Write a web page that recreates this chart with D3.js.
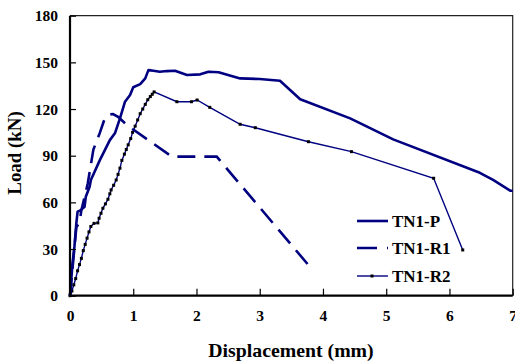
<!DOCTYPE html>
<html>
<head>
<meta charset="utf-8">
<script src="https://cdn.jsdelivr.net/npm/d3@7"></script>
<style>
  body { margin: 0; background: #fff; }
  text { font-family: "Liberation Serif", "Times New Roman", serif; font-weight: bold; fill: #000; }
</style>
</head>
<body>
<svg id="chart" width="515" height="361"></svg>
<script>
// TN1-P (displacement mm, load kN)
const tn1P = [[0,0],[0.04,21],[0.07,31.5],[0.10,46.5],[0.12,54],[0.17,55],[0.23,57.2],[0.25,63.6],
  [0.31,70],[0.33,74.4],[0.47,87],[0.63,100],[0.71,104.4],[0.79,114],[0.87,124.7],[0.95,129],
  [1.00,134],[1.11,136],[1.19,139.7],[1.24,145],[1.32,144.6],[1.42,144],[1.53,144.4],[1.66,144.6],
  [1.85,141.9],[2.06,142.3],[2.19,144],[2.35,143.6],[2.69,139.7],[3.00,139.3],[3.32,138.2],
  [3.64,126.3],[4.43,114],[5.11,100.5],[6.48,79],[6.69,74.4],[6.96,67.5],[7.0,67.5]];

const tn1R1 = [[0,0],[0.05,22],[0.10,44],[0.15,47],[0.18,55],[0.28,72],[0.37,94],[0.47,104.5],
  [0.55,114],[0.62,116.5],[0.68,116.8],[0.76,115],[0.90,109.7],[1.61,89.4],[2.32,89.4],[3.77,19.7]];

const tn1R2 = [[0,0],[0.03,3],[0.06,7],[0.09,11],[0.12,16],[0.15,20],[0.18,24],[0.21,29],[0.24,33],
  [0.27,37],[0.30,41],[0.33,44.5],[0.38,46.5],[0.44,46.8],[0.46,49.8],[0.49,53],[0.52,56.2],
  [0.56,59],[0.60,62],[0.63,65.5],[0.65,68],[0.69,71],[0.73,74.4],[0.76,78],[0.79,82],[0.82,87],
  [0.86,91],[0.89,94],[0.92,97],[0.96,101],[0.99,105],[1.03,109],[1.07,113],[1.11,117],[1.15,120],
  [1.19,123],[1.23,126],[1.27,128],[1.30,129.5],[1.33,131],[1.69,124.7],[1.92,124.7],[2.01,125.8],
  [2.21,121.1],[2.69,110.2],[2.93,108],[3.77,99],[4.45,92.6],[5.75,75.5],[6.21,29.4]];

const xTicks = [0, 1, 2, 3, 4, 5, 6, 7];
const yTicks = [0, 30, 60, 90, 120, 150, 180];
const legendNames = ["TN1-P", "TN1-R1", "TN1-R2"];

const navy = "#000080";
let svg = d3.select("#chart");

let x = d3.scaleLinear().domain([0, 7]).range([70, 512.7]);
let y = d3.scaleLinear().domain([0, 180]).range([295.7, 15.7]);

let g = svg.append("g");

// frame top/right
g.append("path")
  .attr("d", `M${x(0)},${y(180)}H${x(7)}V${y(0)}`)
  .attr("fill", "none").attr("stroke", "#222").attr("stroke-width", 1.2);

let line = d3.line().x(d => x(d[0])).y(d => y(d[1]));

g.append("path").datum(tn1R2).attr("d", line)
  .attr("fill", "none").attr("stroke", navy).attr("stroke-width", 1.4);
g.selectAll("rect.mk").data(tn1R2).enter().append("rect")
  .attr("class", "mk")
  .attr("x", d => x(d[0]) - 1.5).attr("y", d => y(d[1]) - 1.5)
  .attr("width", 3).attr("height", 3).attr("fill", "#000");

g.append("path").datum(tn1R1).attr("d", line)
  .attr("fill", "none").attr("stroke", navy).attr("stroke-width", 2.6)
  .attr("stroke-dasharray", "18,9");

g.append("path").datum(tn1P).attr("d", line)
  .attr("fill", "none").attr("stroke", navy).attr("stroke-width", 2.6)
  .attr("stroke-linejoin", "round");

// axes
let xAxis = g.append("g").attr("transform", `translate(0,${y(0)})`)
  .call(d3.axisBottom(x).tickValues(xTicks).tickSize(-7).tickPadding(14).tickFormat(d3.format("d")));
let yAxis = g.append("g").attr("transform", `translate(${x(0)},0)`)
  .call(d3.axisLeft(y).tickValues(yTicks).tickSize(-6).tickPadding(12).tickFormat(d3.format("d")));
[xAxis, yAxis].forEach(a => {
  a.select(".domain").attr("stroke", "#000").attr("stroke-width", 2.2);
  a.selectAll(".tick line").attr("stroke", "#000").attr("stroke-width", 1.2);
  a.selectAll(".tick text").attr("font-size", 15.5).attr("font-family", "Liberation Serif").attr("font-weight", "bold");
});
xAxis.select(".domain").attr("d", `M${x(0)},0H${x(7)}`);
yAxis.select(".domain").attr("d", `M0,${y(0)}V${y(180)}`);

svg.append("text").attr("transform", "translate(291,357) scale(1.1,1)").attr("text-anchor", "middle")
  .attr("font-size", 18).text("Displacement (mm)");
svg.append("text").attr("transform", "translate(21,153) rotate(-90) scale(1.05,1)").attr("text-anchor", "middle")
  .attr("font-size", 18).text("Load (kN)");

// legend
let legY = [221, 248, 276];
let leg = svg.append("g");
legendNames.forEach((name, i) => {
  let row = leg.append("g").attr("transform", `translate(0,${legY[i]})`);
  if (i === 0) {
    row.append("line").attr("x1", 357).attr("x2", 388).attr("stroke", navy).attr("stroke-width", 2.6);
  } else if (i === 1) {
    row.append("line").attr("x1", 357).attr("x2", 388).attr("stroke", navy).attr("stroke-width", 2.6)
      .attr("stroke-dasharray", "20,10");
  } else {
    row.append("line").attr("x1", 357).attr("x2", 388).attr("stroke", navy).attr("stroke-width", 1.4);
    row.append("rect").attr("x", 370.5).attr("y", -1.5).attr("width", 3).attr("height", 3).attr("fill", "#000");
  }
  row.append("text").attr("x", 392).attr("y", 6).attr("font-size", 17).text(name);
});
</script>
</body>
</html>
